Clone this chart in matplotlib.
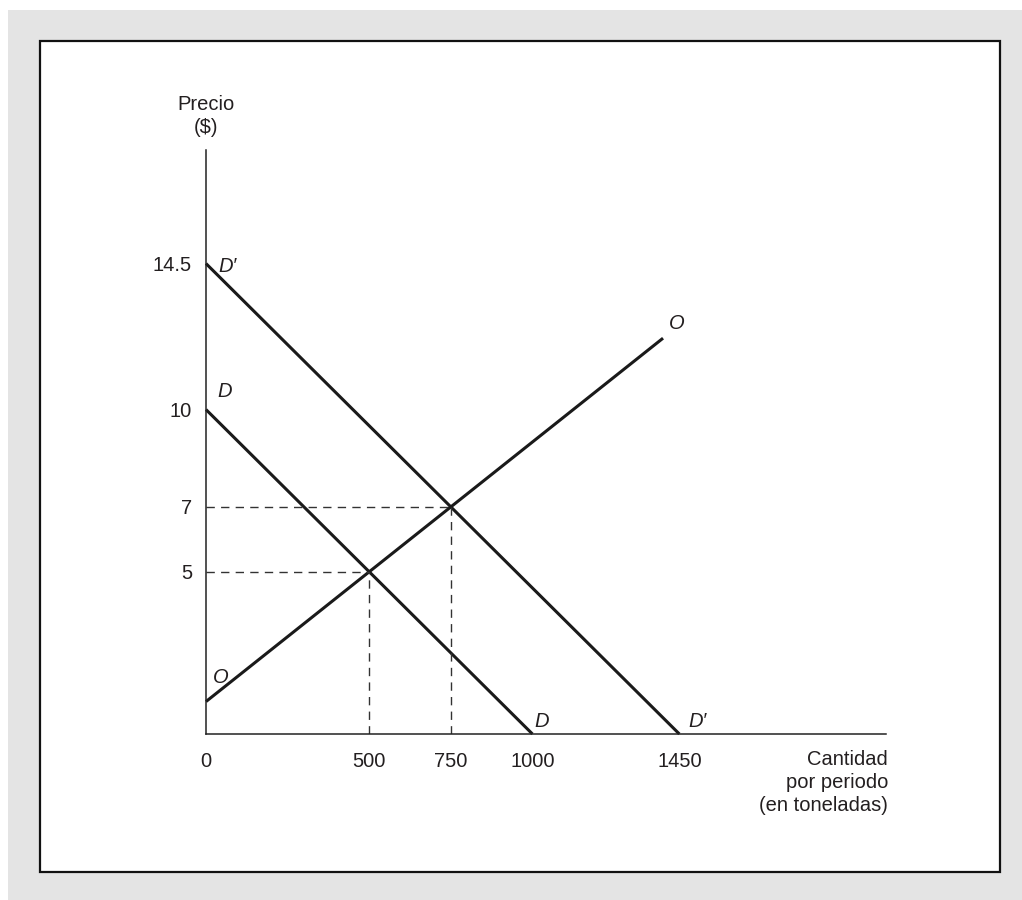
import matplotlib.pyplot as plt
from matplotlib.patches import Rectangle

# ejes: cantidad (toneladas) y precio ($)
x_ticks = [0, 500, 750, 1000, 1450]
y_ticks = [5, 7, 10, 14.5]

# demanda original D y demanda nueva D'
demand_q = [0, 1000]
demand_p = [10, 0]
demand2_q = [0, 1450]
demand2_p = [14.5, 0]

# oferta O
supply_q = [0, 1400]
supply_p = [1, 12.2]

# puntos de equilibrio
eq_q = [500, 750]
eq_p = [5, 7]

ink = '#1a1a1a'
txt = '#231f20'
fam = ['Liberation Sans', 'DejaVu Sans']
fs = 14.5

fig = plt.figure(figsize=(10.22, 9), dpi=100)
fig.patch.set_facecolor('white')

# marco gris y recuadro blanco
fig.add_artist(Rectangle((8 / 1022, 0), 1, 890 / 900, transform=fig.transFigure,
                         facecolor='#e4e4e4', edgecolor='none', zorder=-2))
fig.add_artist(Rectangle((40 / 1022, 28 / 900), 960 / 1022, 831 / 900, transform=fig.transFigure,
                         facecolor='white', edgecolor='#111111', lw=1.6, zorder=-1))

ax = fig.add_axes([206 / 1022, 166 / 900, 680 / 1022, 584 / 900])
ax.patch.set_visible(False)
ax.set_xlim(0, 2083)
ax.set_ylim(0, 18.0)

for s in ['top', 'right']:
    ax.spines[s].set_visible(False)
for s in ['left', 'bottom']:
    ax.spines[s].set_linewidth(1.1)
    ax.spines[s].set_color('#222222')

ax.set_xticks(x_ticks)
ax.set_xticklabels([str(v) for v in x_ticks])
ax.set_yticks(y_ticks)
ax.set_yticklabels([f'{v:g}' for v in y_ticks])
ax.tick_params(axis='x', length=0, pad=13, labelsize=fs, labelcolor=txt)
ax.tick_params(axis='y', length=0, pad=10, labelsize=fs, labelcolor=txt)
for lab in ax.get_xticklabels() + ax.get_yticklabels():
    lab.set_family(fam)

# curvas
ax.plot(demand_q, demand_p, color=ink, lw=2.2, solid_capstyle='butt', clip_on=False)
ax.plot(demand2_q, demand2_p, color=ink, lw=2.2, solid_capstyle='butt', clip_on=False)
ax.plot(supply_q, supply_p, color=ink, lw=2.2, solid_capstyle='butt', clip_on=False)

# lineas punteadas hacia los ejes
for q, p in zip(eq_q, eq_p):
    ax.plot([0, q], [p, p], color='#333333', lw=1.0, linestyle=(0, (6, 4.5)))
    ax.plot([q, q], [0, p], color='#333333', lw=1.0, linestyle=(0, (6, 4.5)))

# etiquetas de las curvas
lbl = dict(fontsize=fs, style='italic', color=txt, family=fam, ha='center', va='center')
ax.text(67, 14.4, 'D\u2032', **lbl)
ax.text(58, 10.57, 'D', **lbl)
ax.text(46, 1.73, 'O', **lbl)
ax.text(1443, 12.64, 'O', **lbl)
ax.text(1029, 0.40, 'D', **lbl)
ax.text(1507, 0.40, 'D\u2032', **lbl)

# titulos de los ejes
fig.text(206 / 1022, 1 - 95 / 900, 'Precio\n($)', ha='center', va='top', multialignment='center',
         fontsize=fs, color=txt, family=fam, linespacing=1.25)
fig.text(888 / 1022, 1 - 750 / 900, 'Cantidad\npor periodo\n(en toneladas)', ha='right', va='top',
         multialignment='right', fontsize=fs, color=txt, family=fam, linespacing=1.27)

fig.savefig('out.png', dpi=100)
